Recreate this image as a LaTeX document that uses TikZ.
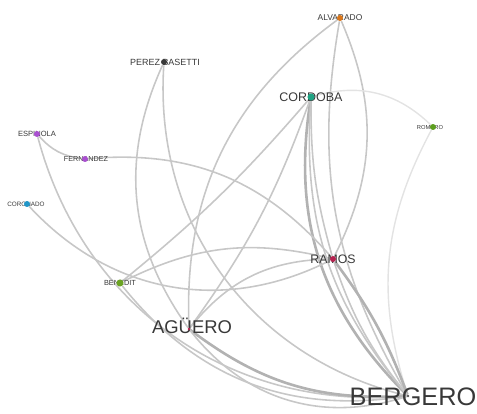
\documentclass[tikz,border=0pt]{standalone}
\usepackage{fontspec}
\setmainfont{Liberation Sans}
\usetikzlibrary{backgrounds}
\definecolor{cAlv}{HTML}{D9761A}
\definecolor{cPer}{HTML}{3A3A3A}
\definecolor{cCor}{HTML}{1FA383}
\definecolor{cRom}{HTML}{5C9E1E}
\definecolor{cEsp}{HTML}{A94FD0}
\definecolor{cCon}{HTML}{2196C8}
\definecolor{cBen}{HTML}{6BA323}
\definecolor{cRam}{HTML}{B5224F}
\definecolor{cBer}{HTML}{555555}
\newcommand{\fsz}[1]{\fontsize{#1}{#1}\selectfont}
\begin{document}
\begin{tikzpicture}[x=0.02cm,y=-0.02cm,
    dot/.style={circle,inner sep=0pt,minimum size=3.4pt},
    lbl/.style={text=black!78,inner sep=0pt},
    edge/.style={draw=black!22,line width=0.9pt},
    faint/.style={draw=black!11,line width=0.8pt},
    heavy/.style={draw=black!30,line width=1.5pt}]
  \useasboundingbox (0,0) rectangle (477,413);
  % labels
  \node[lbl,font=\fsz{4.8}] (alv-t) at (340,18) {ALVARADO};
  \node[lbl,font=\fsz{5.1}] (per-t) at (165,62) {PEREZ BASETTI};
  \node[lbl,font=\fsz{7.1}] (cor-t) at (311,97) {CORDOBA};
  \node[lbl,font=\fsz{3.3}] (rom-t) at (430,127) {ROMERO};
  \node[lbl,font=\fsz{4.3}] (esp-t) at (37,134) {ESPINOLA};
  \node[lbl,font=\fsz{4.1}] (fer-t) at (86,159) {FERNANDEZ};
  \node[lbl,font=\fsz{3.6}] (con-t) at (26,204) {CORONADO};
  \node[lbl,font=\fsz{4.2}] (ben-t) at (120,283) {BENEDIT};
  \node[lbl,font=\fsz{7}] (ram-t) at (333,259) {RAMOS};
  \node[lbl,font=\fsz{10.5}] (agu-t) at (192,326) {AGÜERO};
  \node[lbl,font=\fsz{14.4}] (ber-t) at (413,397) {BERGERO};
  % dots
  \node[dot,fill=cAlv] (alv) at (340,18) {};
  \node[dot,fill=cPer] (per) at (164,62) {};
  \node[dot,fill=cCor,minimum size=4pt] (cor) at (311,97) {};
  \node[dot,fill=cRom] (rom) at (433,127) {};
  \node[dot,fill=cEsp] (esp) at (37,134) {};
  \node[dot,fill=cEsp] (fer) at (85,159) {};
  \node[dot,fill=cCon] (con) at (27,204) {};
  \node[dot,fill=cBen,minimum size=4pt] (ben) at (120,283) {};
  \node[dot,fill=cRam] (ram) at (333,259) {};
  \node[dot,fill=cRam,minimum size=1.5pt] (agu) at (189,329) {};
  \node[dot,fill=cBer,minimum size=1.5pt] (ber) at (408,396) {};
  % edges
  \begin{scope}[on background layer]
    \draw[edge] (alv) to[bend right=28] (agu);
    \draw[edge] (alv) to[bend right=20] (ber);
    \draw[edge] (alv) to[bend left=25] (ram);
    \draw[faint] (rom) to[bend right=30] (cor);
    \draw[faint] (rom) to[bend right=23] (ber);
    \draw[heavy] (cor) to[bend right=27] (ber);
    \draw[edge] (cor) to[bend right=22] (ber);
    \draw[edge] (cor) to[bend left=8] (agu);
    \draw[edge] (cor) to[bend left=5] (ben);
    \draw[edge] (cor) to[bend right=8] (ram);
    \draw[edge] (per) to[bend right=30] (agu);
    \draw[edge] (per) to[bend right=40] (ber);
    \draw[edge] (esp) to[bend right=20] (fer);
    \draw[edge] (esp) to[bend right=40] (ber);
    \draw[edge] (fer) to[bend left=27] (ram);
    \draw[edge] (con) to[bend right=37] (ram);
    \draw[edge] (ben) to[bend left=20] (ram);
    \draw[edge] (ben) to[bend right=30] (ber);
    \draw[edge] (agu) to[bend left=25] (ram);
    \draw[heavy] (agu) to[bend right=20] (ber);
    \draw[edge] (agu) to[bend right=35] (ber);
    \draw[heavy] (ram) to[bend left=8] (ber);
    \draw[edge] (ram) to[bend right=10] (ber);
  \end{scope}
\end{tikzpicture}
\end{document}
